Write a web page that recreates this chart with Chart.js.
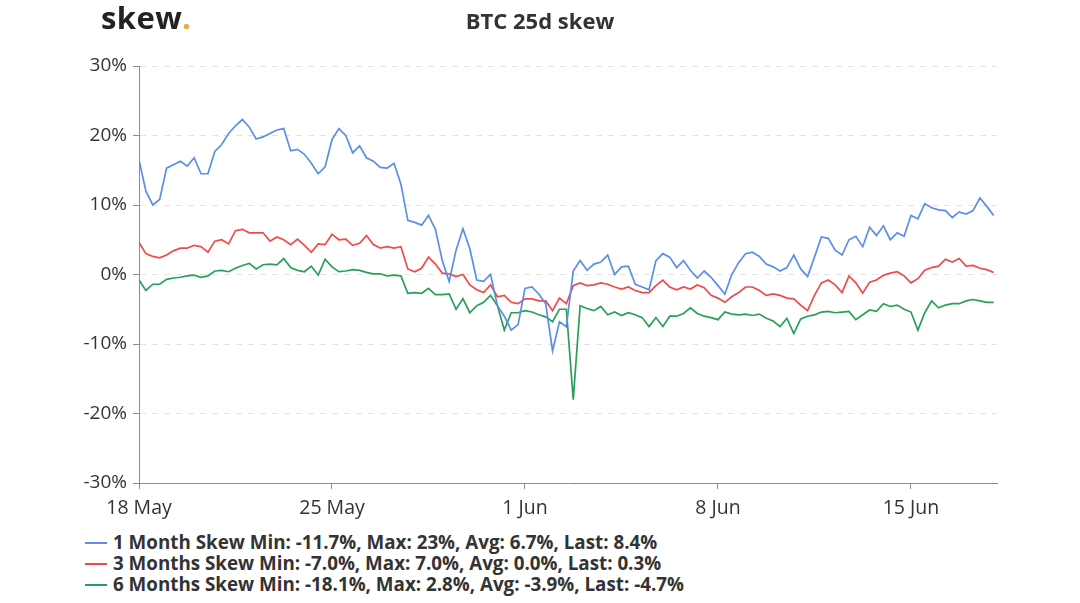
<!DOCTYPE html>
<html><head><meta charset="utf-8">
<script src="https://cdn.jsdelivr.net/npm/chart.js@4.4.1/dist/chart.umd.min.js"></script>
<style>
body{margin:0;background:#fff;width:1080px;height:603px;overflow:hidden;font-family:'Open Sans',sans-serif;position:relative}
#logo{position:absolute;left:101px;top:-4px;font-family:'Open Sans';font-weight:700;font-size:31px;color:#222;letter-spacing:0.4px}
#logo span{color:#f2a531}
#title{position:absolute;left:0;width:1080px;top:6px;text-align:center;font-family:'Open Sans';font-weight:700;font-size:22px;line-height:28px;color:#333}
#c{position:absolute;left:0;top:0}
#legend{position:absolute;left:85px;top:532px;font-family:'Open Sans';font-weight:700;font-size:18.8px;color:#333}
.row{height:21px;line-height:21px;display:flex;align-items:center;white-space:nowrap}
.sw{width:22px;height:2px;margin-right:6px}
</style></head>
<body>
<canvas id="c" width="1080" height="525"></canvas>
<div id="logo">skew<span>.</span></div>
<div id="title">BTC 25d skew</div>
<div id="legend"></div>
<script>
// 6-hourly samples starting 18 May 00:00
const stepDays = 0.25;
const tickDays = [0, 7, 14, 21, 28];
const tickLabels = ["18 May", "25 May", "1 Jun", "8 Jun", "15 Jun"];
const yTicks = [-30, -20, -10, 0, 10, 20, 30];

const seriesNames = ["1 Month Skew", "3 Months Skew", "6 Months Skew"];
const seriesStats = [
  "Min: -11.7%, Max: 23%, Avg: 6.7%, Last: 8.4%",
  "Min: -7.0%, Max: 7.0%, Avg: 0.0%, Last: 0.3%",
  "Min: -18.1%, Max: 2.8%, Avg: -3.9%, Last: -4.7%"
];
const seriesColors = ["#5b8ee8", "#ee4a4a", "#29a05a"];

const oneMonth = [
  16.5, 12.0, 10.0, 10.8, 15.3, 15.8, 16.3, 15.6, 16.8, 14.5, 14.5, 17.7, 18.7, 20.3, 21.4, 22.3, 21.2, 19.5, 19.8, 20.3, 20.8, 21.0, 17.8, 18.0, 17.3,
  16.0, 14.5, 15.5, 19.4, 21.0, 20.0, 17.5, 18.5, 16.8, 16.3, 15.4, 15.3, 16.0, 13.0, 7.8, 7.5, 7.1, 8.5, 6.5, 2.0, -1.0, 3.5, 6.6, 3.7, -0.8,
  -1.0, 0.0, -4.5, -6.0, -8.0, -7.2, -2.0, -1.8, -2.8, -4.2, -11.0, -6.8, -7.5, 0.5, 2.0, 0.6, 1.5, 1.8, 2.8, 0.0, 1.1, 1.2, -1.4, -1.8, -2.2,
  2.0, 3.0, 2.5, 1.0, 2.0, 0.6, -0.5, 0.5, -0.4, -1.6, -2.8, 0.0, 1.7, 3.0, 3.2, 2.6, 1.5, 1.1, 0.5, 1.0, 2.8, 0.8, -0.3, 2.5,
  5.4, 5.2, 3.5, 2.8, 5.0, 5.5, 4.0, 6.8, 5.6, 7.0, 5.0, 6.0, 5.5, 8.5, 8.0, 10.2, 9.6, 9.3, 9.2, 8.2, 9.0, 8.7, 9.2, 11.0, 9.8, 8.5
];
const threeMonths = [
  4.6, 3.0, 2.6, 2.4, 2.8, 3.4, 3.8, 3.8, 4.2, 4.0, 3.2, 4.8, 5.0, 4.4, 6.3, 6.5, 6.0, 6.0, 6.0, 4.8, 5.4, 5.0, 4.3, 5.1, 4.2,
  3.2, 4.4, 4.3, 5.8, 5.0, 5.1, 4.2, 4.5, 5.6, 4.3, 3.8, 4.0, 3.8, 4.0, 0.8, 0.4, 0.9, 2.5, 1.5, 0.2, 0.1, -0.3, 0.0, -1.5, -2.2,
  -2.6, -1.5, -3.2, -3.0, -4.0, -4.2, -3.5, -3.5, -3.8, -3.8, -5.2, -3.4, -4.2, -1.6, -1.2, -1.6, -1.5, -1.2, -1.4, -1.8, -2.1, -1.8, -2.3, -2.6, -2.6,
  -1.6, -0.8, -1.8, -2.2, -1.8, -2.1, -1.5, -1.9, -3.0, -3.4, -4.0, -3.2, -2.6, -1.8, -1.8, -2.3, -3.0, -2.8, -3.0, -3.4, -3.5, -4.4, -5.2, -3.0,
  -1.2, -0.8, -1.5, -2.6, -0.2, -1.2, -2.7, -1.1, -0.8, -0.1, 0.2, 0.4, -0.2, -1.2, -0.6, 0.6, 1.0, 1.2, 2.2, 1.8, 2.3, 1.2, 1.3, 0.9, 0.7, 0.3
];
const sixMonths = [
  -0.8, -2.3, -1.4, -1.4, -0.7, -0.5, -0.4, -0.2, -0.1, -0.4, -0.2, 0.5, 0.6, 0.4, 0.9, 1.3, 1.6, 0.8, 1.4, 1.5, 1.4, 2.3, 1.0, 0.6, 0.4,
  1.2, -0.1, 2.2, 1.1, 0.4, 0.5, 0.7, 0.6, 0.3, 0.1, 0.1, -0.2, -0.1, -0.2, -2.7, -2.6, -2.7, -2.0, -2.9, -2.9, -2.8, -5.0, -3.5, -5.5, -4.5,
  -4.0, -3.0, -4.5, -8.0, -5.5, -5.5, -5.2, -5.4, -5.8, -6.1, -6.8, -5.0, -5.0, -18.0, -4.5, -4.9, -5.2, -4.6, -5.8, -5.4, -5.9, -5.5, -5.8, -6.2, -7.5,
  -6.2, -7.5, -6.0, -6.0, -5.6, -4.8, -5.6, -6.0, -6.2, -6.5, -5.4, -5.7, -5.8, -5.7, -5.9, -5.7, -6.3, -6.7, -7.5, -6.3, -8.5, -6.4, -6.0, -5.8,
  -5.4, -5.3, -5.5, -5.4, -5.3, -6.5, -5.8, -5.1, -5.3, -4.2, -4.6, -4.4, -5.0, -5.4, -8.0, -5.5, -3.8, -4.8, -4.4, -4.2, -4.2, -3.8, -3.6, -3.8, -4.0, -4.0
];

const allSeries = [oneMonth, threeMonths, sixMonths];
const FONT = "'Open Sans', sans-serif";

const datasets = allSeries.map((vals, k) => ({
  label: seriesNames[k],
  data: vals.map((v, i) => ({ x: i * stepDays, y: v })),
  borderColor: seriesColors[k],
  backgroundColor: seriesColors[k],
  borderWidth: 1.7,
  pointRadius: 0,
  tension: 0,
  fill: false
}));

new Chart(document.getElementById('c'), {
  type: 'line',
  data: { datasets },
  options: {
    responsive: false,
    animation: false,
    devicePixelRatio: 1,
    layout: { padding: { left: 0, right: 83, top: 66, bottom: 0 } },
    plugins: {
      legend: { display: false },
      tooltip: { enabled: false },
      title: { display: false }
    },
    scales: {
      x: {
        type: 'linear',
        min: 0,
        max: 31.12,
        afterBuildTicks: s => { s.ticks = tickDays.map(v => ({ value: v })); },
        afterFit: s => { s.height = 42; },
        ticks: {
          autoSkip: false,
          maxRotation: 0,
          padding: 8,
          color: '#333',
          font: { family: FONT, size: 19.5 },
          callback: (v) => { const j = tickDays.indexOf(v); return j >= 0 ? tickLabels[j] : ''; }
        },
        grid: { drawOnChartArea: false, drawTicks: true, tickLength: 6, tickColor: '#8c8c8c' },
        border: { display: true, color: '#8c8c8c', width: 1 }
      },
      y: {
        min: -30,
        max: 30,
        afterBuildTicks: s => { s.ticks = yTicks.map(v => ({ value: v })); },
        afterFit: s => { s.width = 139; },
        ticks: {
          padding: 6,
          color: '#333',
          font: { family: FONT, size: 19 },
          callback: v => v + '%'
        },
        grid: { color: '#e3e3e3', lineWidth: 1, tickLength: 6, tickColor: '#8c8c8c' },
        border: { display: true, color: '#8c8c8c', width: 1, dash: [6, 6] }
      }
    }
  }
});

const lg = document.getElementById('legend');
seriesNames.forEach((n, k) => {
  const r = document.createElement('div');
  r.className = 'row';
  const sw = document.createElement('div');
  sw.className = 'sw';
  sw.style.background = seriesColors[k];
  const t = document.createElement('span');
  t.textContent = n + ' ' + seriesStats[k];
  r.appendChild(sw); r.appendChild(t);
  lg.appendChild(r);
});
</script>
</body></html>
